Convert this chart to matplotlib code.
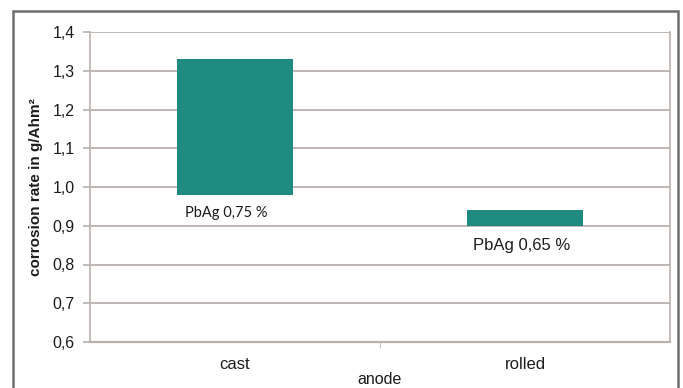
import matplotlib
matplotlib.use("Agg")
import matplotlib.pyplot as plt
from matplotlib.patches import Rectangle
from matplotlib.ticker import FixedLocator, FuncFormatter

# Corrosion rate range per anode type (floating bars: low -> high)
categories = ["cast", "rolled"]
rate_low = [0.98, 0.90]
rate_high = [1.33, 0.94]
alloy_labels = ["PbAg 0,75 %", "PbAg 0,65 %"]
label_values = [0.933, 0.85]
label_offsets = [-0.03, -0.01]
y_ticks = [0.6, 0.7, 0.8, 0.9, 1.0, 1.1, 1.2, 1.3, 1.4]

BAR_COLOR = "#1f8a80"
GRID_COLOR = "#bab1ad"
TEXT_COLOR = "#1c1c1c"

fig = plt.figure(figsize=(6.83, 3.88), dpi=100)
fig.patch.set_facecolor("white")

ax = fig.add_axes([90 / 683, 1 - 342 / 388, 580 / 683, 310 / 388])

x = list(range(len(categories)))
heights = [h - l for h, l in zip(rate_high, rate_low)]
ax.bar(x, heights, bottom=rate_low, width=0.4, color=BAR_COLOR, zorder=3)

ax.set_xlim(-0.5, len(categories) - 0.5)
ax.set_ylim(0.6, 1.4)

ax.yaxis.set_major_locator(FixedLocator(y_ticks))
ax.yaxis.set_major_formatter(FuncFormatter(lambda v, p: f"{v:.1f}".replace(".", ",")))
ax.grid(axis="y", color=GRID_COLOR, linewidth=1.3, zorder=0)

ax.set_xticks(x)
ax.set_xticklabels(categories)
ax.xaxis.set_minor_locator(FixedLocator([0.5]))
ax.tick_params(axis="x", which="major", length=0, pad=11,
               labelsize=12, labelcolor=TEXT_COLOR)
ax.tick_params(axis="x", which="minor", length=4, color=GRID_COLOR)
ax.tick_params(axis="y", length=5, color=GRID_COLOR, width=1.2,
               labelsize=11.5, labelcolor=TEXT_COLOR, pad=6)

for name in ("top", "bottom"):
    ax.spines[name].set_visible(False)
for name in ("left", "right"):
    ax.spines[name].set_color(GRID_COLOR)
    ax.spines[name].set_linewidth(1.2)
ax.axhline(0.6, color=GRID_COLOR, linewidth=1.6, zorder=1, clip_on=False)

for xi, txt, yv, off, fam, fs in zip(x, alloy_labels, label_values, label_offsets,
                                     ["Lato", "Liberation Sans"], [10.5, 12]):
    ax.text(xi + off, yv, txt, ha="center", va="center", fontsize=fs,
            color=TEXT_COLOR, family=fam, zorder=4)

ax.set_xlabel("anode", fontsize=11.5, color=TEXT_COLOR, labelpad=0)
ax.set_ylabel("corrosion rate in g/Ahm²", fontsize=11, fontweight="bold",
              color=TEXT_COLOR, labelpad=7)

for lbl in ax.get_xticklabels() + ax.get_yticklabels():
    lbl.set_family("Liberation Sans")
ax.xaxis.label.set_family("Liberation Sans")
ax.yaxis.label.set_family("Liberation Sans")

# Outer frame of the chart
fig.patches.append(Rectangle((13 / 683, -0.05), 665 / 683, 1 - 11 / 388 + 0.05,
                             transform=fig.transFigure, fill=False,
                             edgecolor="#6e6e6e", linewidth=1.8))

fig.savefig("out.png", dpi=100, facecolor="white")
